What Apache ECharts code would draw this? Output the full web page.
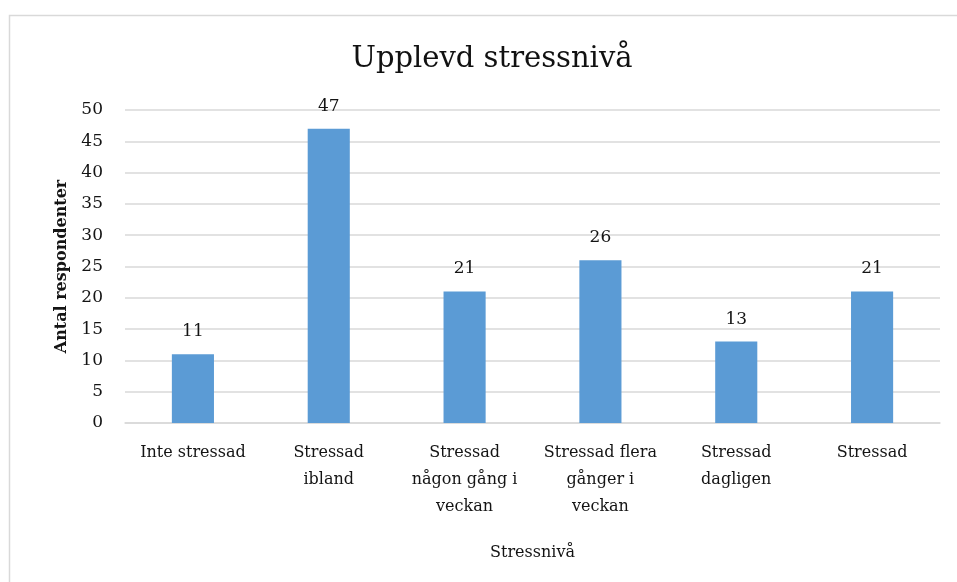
<!DOCTYPE html>
<html>
<head>
<meta charset="utf-8">
<script src="https://cdn.jsdelivr.net/npm/echarts@6/dist/echarts.min.js"></script>
<style>
  html, body { margin: 0; padding: 0; background: #fff; }
  #main { width: 957px; height: 582px; }
</style>
</head>
<body>
<div id="main"></div>
<script>
// data
var categories = [
  'Inte stressad',
  'Stressad\nibland',
  'Stressad\nnågon gång i\nveckan',
  'Stressad flera\ngånger i\nveckan',
  'Stressad\ndagligen',
  'Stressad'
];
var values = [11, 47, 21, 26, 13, 21];
var yTicks = { min: 0, max: 50, interval: 5 };

var serif = '"DejaVu Serif", "Liberation Serif", serif';
var txt = '#141414';
var chart = echarts.init(document.getElementById('main'));
chart.setOption({
  animation: false,
  textStyle: { fontFamily: serif },
  title: {
    text: 'Upplevd stressnivå',
    left: 487, top: 40, textAlign: 'center',
    textStyle: { fontFamily: serif, fontSize: 29, fontWeight: 'normal', color: '#111' }
  },
  graphic: [{
    type: 'rect', left: 7, top: 13, silent: true,
    shape: { width: 970, height: 600 },
    style: { fill: 'none', stroke: '#d9d9d9', lineWidth: 1.5 }
  }],
  grid: { left: 125, right: 17, top: 110, bottom: 159 },
  xAxis: {
    type: 'category',
    data: categories,
    name: 'Stressnivå',
    nameLocation: 'middle',
    nameGap: 122,
    nameTextStyle: { fontFamily: serif, fontSize: 16, color: txt },
    axisLine: { lineStyle: { color: '#d9d9d9', width: 1.5 } },
    axisTick: { show: false },
    axisLabel: { fontFamily: serif, fontSize: 16, color: txt, lineHeight: 27, margin: 16, interval: 0 }
  },
  yAxis: {
    type: 'value',
    min: yTicks.min, max: yTicks.max, interval: yTicks.interval,
    name: 'Antal respondenter',
    nameLocation: 'middle',
    nameGap: 55,
    nameTextStyle: { fontFamily: serif, fontSize: 16, fontWeight: 'bold', color: txt },
    axisLine: { show: false },
    axisTick: { show: false },
    splitLine: { lineStyle: { color: '#d9d9d9', width: 1.5 } },
    axisLabel: { fontFamily: serif, fontSize: 17, color: txt, margin: 22 }
  },
  series: [{
    type: 'bar',
    data: values,
    barWidth: '31%',
    itemStyle: { color: '#5b9bd5' },
    label: { show: true, position: 'top', distance: 14, fontFamily: serif, fontSize: 17, color: txt }
  }]
});
</script>
</body>
</html>
